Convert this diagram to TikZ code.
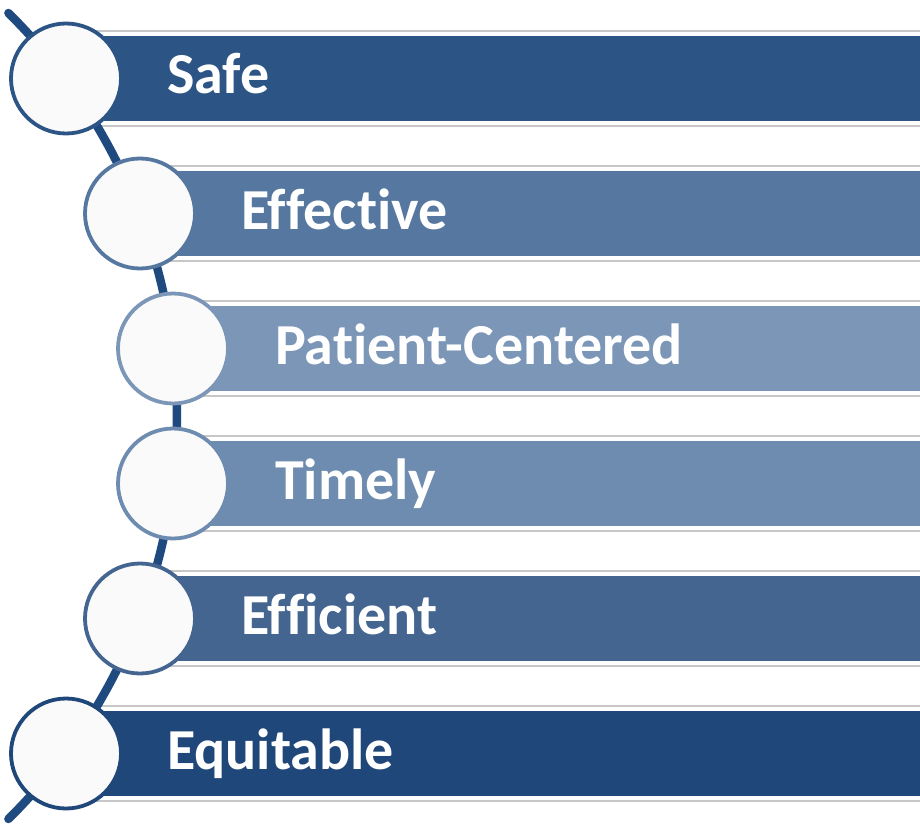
\documentclass[tikz,border=0pt]{standalone}
\usepackage{fontspec}
\setmainfont{Carlito}[Ligatures={NoCommon}]
\begin{document}
\begin{tikzpicture}[x=1pt,y=-1pt,
  rule/.style={draw=black!22, line width=1.6pt},
  ring/.style={circle, minimum size=110pt, inner sep=0pt, fill=white!98!black, draw=#1, line width=3.8pt},
  label/.style={anchor=base west, text=white, font=\bfseries\fontsize{58}{60}\selectfont, inner sep=0pt},
  spine/.style={draw=spinecol, line width=8.5pt, line cap=round}]
\definecolor{spinecol}{HTML}{1F4A80}
\definecolor{cSafe}{HTML}{2C5586}
\definecolor{cEffective}{HTML}{56779F}
\definecolor{cPatient}{HTML}{7C96B8}
\definecolor{cTimely}{HTML}{6E8CB0}
\definecolor{cEfficient}{HTML}{43658F}
\definecolor{cEquitable}{HTML}{1F4779}
\useasboundingbox (0,0) rectangle (920,824);

% bars with thin rules above and below
\foreach \cx/\cy/\col in {66/78.5/cSafe, 140/213.5/cEffective, 173/348.5/cPatient,
                          173/483.5/cTimely, 140/618.5/cEfficient, 66/753.5/cEquitable}{
  \fill[\col] (\cx,\cy-42.5) rectangle (925,\cy+42.5);
  \draw[rule] (\cx,\cy-47.5) -- (925,\cy-47.5);
  \draw[rule] (\cx,\cy+47.5) -- (925,\cy+47.5);
}

% curved spine through the ring centres
\coordinate (arcC) at (-389,416);
\draw[spine] ([shift={(45.4:566pt)}]arcC) arc[start angle=45.4, end angle=-45.4, radius=566pt];

% rings
\node[ring=cSafe]      (r1) at (66,78.5)  {};
\node[ring=cEffective] (r2) at (140,213.5) {};
\node[ring=cPatient]   (r3) at (173,348.5) {};
\node[ring=cTimely]    (r4) at (173,483.5) {};
\node[ring=cEfficient] (r5) at (140,618.5) {};
\node[ring=cEquitable] (r6) at (66,753.5)  {};

% labels
\node[label] (t1) at (167,94)  {Safe};
\node[label] (t2) at (241,229) {Effective};
\node[label] (t3) at (275,364) {Patient-Centered};
\node[label] (t4) at (275,499) {Timely};
\node[label] (t5) at (241,634) {Efficient};
\node[label] (t6) at (167,769) {Equitable};
\end{tikzpicture}
\end{document}
